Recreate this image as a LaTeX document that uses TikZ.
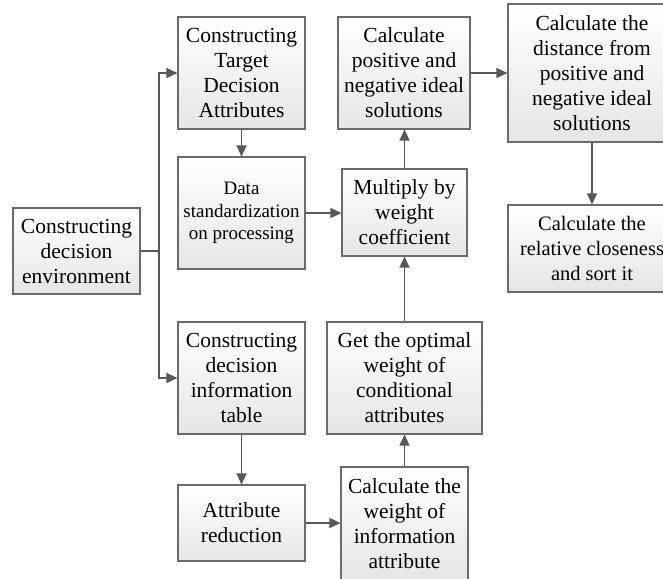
\documentclass[tikz,border=0pt]{standalone}
\usepackage{fontspec}
\setmainfont{Liberation Serif}
\usetikzlibrary{arrows.meta}
\definecolor{boxline}{HTML}{6B6B6B}
\definecolor{arrline}{HTML}{585858}
\tikzset{
  box/.style={draw=boxline, line width=1.1pt, top color=white, bottom color=black!10,
    align=center, inner sep=0pt, font=\fontsize{21.5}{25}\selectfont},
  smallbox/.style={box, font=\fontsize{19}{22.5}\selectfont},
  arr/.style={draw=arrline, line width=1.3pt, -{Triangle[length=11pt,width=10pt]}},
  link/.style={draw=arrline, line width=1.3pt}
}
\begin{document}
\begin{tikzpicture}[x=1pt,y=-1pt]
\useasboundingbox (0,0) rectangle (663,578);
\clip (0,0) rectangle (663,578);
\node[box, minimum width=127pt, minimum height=86pt] (env) at (76.5,251) {Constructing\\decision\\environment};
\node[box, minimum width=127pt, minimum height=112pt] (target) at (241.5,73) {Constructing\\Target\\Decision\\Attributes};
\node[smallbox, minimum width=127pt, minimum height=112pt] (datastd) at (241.5,213) {Data\\standardization\\on processing};
\node[box, minimum width=127pt, minimum height=112pt] (info) at (241.5,378) {Constructing\\decision\\information\\table};
\node[box, minimum width=127pt, minimum height=76pt] (attr) at (241.5,523) {Attribute\\reduction};
\node[box, minimum width=132pt, minimum height=112pt] (calcpn) at (404,73) {Calculate\\positive and\\negative ideal\\solutions};
\node[box, minimum width=125pt, minimum height=87pt] (mult) at (404.5,212.5) {Multiply by\\weight\\coefficient};
\node[box, minimum width=155pt, minimum height=112pt] (optimal) at (404.5,378) {Get the optimal\\weight of\\conditional\\attributes};
\node[box, minimum width=127pt, minimum height=113pt] (cweight) at (404.5,523.5) {Calculate the\\weight of\\information\\attribute};
\node[box, minimum width=168pt, minimum height=138pt] (dist) at (592,73) {Calculate the\\distance from\\positive and\\negative ideal\\solutions};
\node[box, minimum width=168pt, minimum height=87pt, font=\fontsize{20.5}{25}\selectfont] (close) at (592,248.5) {Calculate the\\relative closeness\\and sort it};
\coordinate (j) at (159,251);
\draw[link] (env.east) -- (j);
\draw[arr] (j) |- (target.west);
\draw[arr] (j) |- (info.west);
\draw[arr] (target.south) -- (datastd.north);
\draw[arr] (datastd.east) -- (datastd.east -| mult.west);
\draw[arr] (info.south) -- (attr.north);
\draw[arr] (attr.east) -- (attr.east -| cweight.west);
\draw[arr] (cweight.north) -- (optimal.south);
\draw[arr] (optimal.north) -- (mult.south);
\draw[arr] (mult.north) -- (mult.north |- calcpn.south);
\draw[arr] (calcpn.east) -- (calcpn.east -| dist.west);
\draw[arr] (dist.south) -- (close.north);
\end{tikzpicture}
\end{document}
